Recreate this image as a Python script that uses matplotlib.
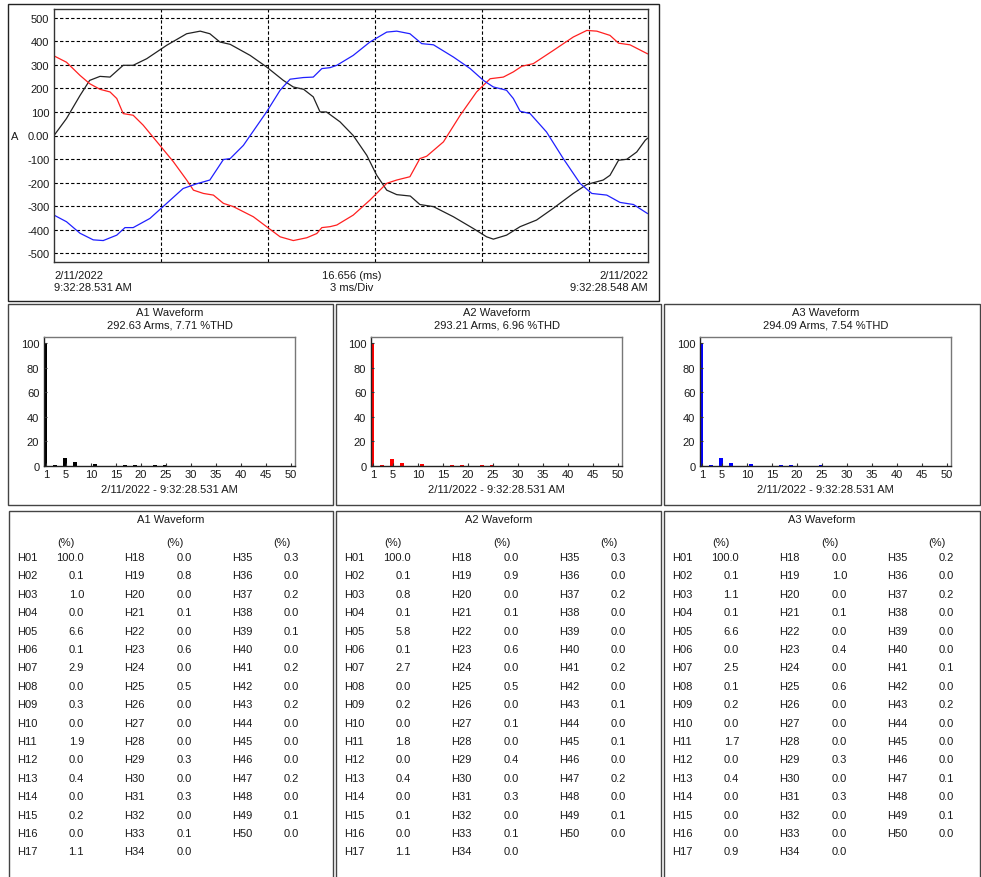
import matplotlib
matplotlib.use("Agg")
import matplotlib.pyplot as plt
from matplotlib.patches import Rectangle

plt.rcParams['font.family'] = ['Liberation Sans', 'DejaVu Sans']
plt.rcParams['font.size'] = 8

# ---------------- data ----------------
# waveform samples (time in ms, current in A)
t_a1 = [0, 0.35, 0.73, 1.0, 1.29, 1.57, 1.94, 2.22, 2.6, 3.16, 3.72, 4.1, 4.37, 4.65, 4.94,
        5.5, 5.96, 6.43, 6.71, 7.0, 7.27, 7.46, 7.64, 8.02, 8.39, 8.77, 9.05, 9.33, 9.61,
        9.99, 10.26, 10.64, 11.2, 11.76, 12.13, 12.32, 12.69, 13.07, 13.53, 14.0, 14.56,
        14.94, 15.4, 15.59, 15.83, 16.06, 16.34, 16.58, 16.64]
v_a1 = [0, 72, 170, 234, 251, 248, 298, 298, 326, 383, 432, 443, 432, 397, 387,
        340, 291, 234, 206, 196, 164, 100, 100, 58, 0, -84, -169, -232, -251,
        -257, -293, -302, -345, -395, -430, -440, -423, -387, -359, -309, -246,
        -208, -189, -169, -105, -101, -70, -20, -12]

t_a2 = [0, 0.35, 0.73, 1.0, 1.29, 1.57, 1.76, 1.94, 2.22, 2.5, 2.97, 3.35, 3.72, 3.91,
        4.19, 4.47, 4.75, 5.03, 5.59, 5.96, 6.34, 6.71, 7.09, 7.37, 7.51, 7.74, 7.93,
        8.39, 8.86, 9.33, 9.61, 9.98, 10.26, 10.45, 10.92, 11.39, 11.85, 12.23, 12.6,
        12.88, 13.12, 13.44, 14.0, 14.56, 14.94, 15.22, 15.59, 15.83, 16.15, 16.64]
v_a2 = [338, 311, 255, 220, 196, 185, 157, 93, 86, 44, -42, -112, -189, -232,
        -246, -253, -288, -302, -345, -387, -430, -446, -434, -416, -391, -387, -380,
        -338, -274, -203, -189, -175, -98, -88, -27, 86, 185, 241, 248,
        270, 294, 305, 361, 418, 446, 443, 425, 392, 385, 347]

t_a3 = [0, 0.35, 0.73, 1.1, 1.38, 1.76, 1.99, 2.22, 2.69, 3.16, 3.62, 4.0, 4.37, 4.75,
        4.94, 5.31, 5.96, 6.34, 6.62, 6.99, 7.27, 7.51, 7.74, 7.93, 8.39, 8.86, 9.33,
        9.61, 9.98, 10.31, 10.64, 11.2, 11.67, 12.04, 12.32, 12.69, 12.88, 13.07, 13.35,
        13.81, 14.28, 14.75, 15.08, 15.5, 15.87, 16.25, 16.64]
v_a3 = [-338, -366, -415, -443, -446, -423, -391, -391, -352, -288, -225, -205, -189, -102,
        -98, -42, 100, 192, 239, 246, 248, 284, 288, 298, 340, 397, 439,
        443, 432, 390, 385, 333, 284, 234, 206, 192, 157, 103, 93,
        15, -98, -203, -246, -253, -284, -293, -331]

y_ticks = [500, 400, 300, 200, 100, 0, -100, -200, -300, -400, -500]
y_tick_labels = ["500", "400", "300", "200", "100", "0.00", "-100", "-200", "-300", "-400", "-500"]
x_grid_ms = [3, 6, 9, 12, 15]
span_ms = 16.656

# harmonic percentages H01..H50
harm_a1 = [100.0, 0.1, 1.0, 0.0, 6.6, 0.1, 2.9, 0.0, 0.3, 0.0, 1.9, 0.0, 0.4, 0.0, 0.2, 0.0, 1.1,
           0.0, 0.8, 0.0, 0.1, 0.0, 0.6, 0.0, 0.5, 0.0, 0.0, 0.0, 0.3, 0.0, 0.3, 0.0, 0.1, 0.0,
           0.3, 0.0, 0.2, 0.0, 0.1, 0.0, 0.2, 0.0, 0.2, 0.0, 0.0, 0.0, 0.2, 0.0, 0.1, 0.0]
harm_a2 = [100.0, 0.1, 0.8, 0.1, 5.8, 0.1, 2.7, 0.0, 0.2, 0.0, 1.8, 0.0, 0.4, 0.0, 0.1, 0.0, 1.1,
           0.0, 0.9, 0.0, 0.1, 0.0, 0.6, 0.0, 0.5, 0.0, 0.1, 0.0, 0.4, 0.0, 0.3, 0.0, 0.1, 0.0,
           0.3, 0.0, 0.2, 0.0, 0.0, 0.0, 0.2, 0.0, 0.1, 0.0, 0.1, 0.0, 0.2, 0.0, 0.1, 0.0]
harm_a3 = [100.0, 0.1, 1.1, 0.1, 6.6, 0.0, 2.5, 0.1, 0.2, 0.0, 1.7, 0.0, 0.4, 0.0, 0.0, 0.0, 0.9,
           0.0, 1.0, 0.0, 0.1, 0.0, 0.4, 0.0, 0.6, 0.0, 0.0, 0.0, 0.3, 0.0, 0.3, 0.0, 0.0, 0.0,
           0.2, 0.0, 0.2, 0.0, 0.0, 0.0, 0.1, 0.0, 0.2, 0.0, 0.0, 0.0, 0.1, 0.0, 0.1, 0.0]
harm_orders = list(range(1, 51))

phase_names = ["A1 Waveform", "A2 Waveform", "A3 Waveform"]
phase_summary = ["292.63 Arms, 7.71 %THD", "293.21 Arms, 6.96 %THD", "294.09 Arms, 7.54 %THD"]
phase_colors = ["black", "#ff0000", "#0000ff"]
stamp = "2/11/2022 - 9:32:28.531 AM"

# ---------------- layout helpers ----------------
W, H = 981, 878
fig = plt.figure(figsize=(W / 100, H / 100), dpi=100)
fig.patch.set_facecolor("white")


def rect(l, t, r, b):
    return [l / W, 1 - b / H, (r - l) / W, (b - t) / H]


def fx(x):
    return x / W


def fy(y):
    return 1 - y / H


def box(l, t, r, b, color="#444444", lw=1.0):
    fig.add_artist(Rectangle((fx(l), fy(b)), (r - l) / W, (b - t) / H,
                             transform=fig.transFigure, fill=False,
                             edgecolor=color, linewidth=lw))


TXT = "#1a1a1a"

# ---------------- waveform panel ----------------
box(7.5, 4.5, 658.5, 302, color="#222222", lw=1.0)
ax = fig.add_axes(rect(54, 10, 648, 263))
ax.plot(t_a1, v_a1, color="#222222", lw=0.9)
ax.plot(t_a2, v_a2, color="#ff2020", lw=0.9)
ax.plot(t_a3, v_a3, color="#2020ff", lw=0.9)
ax.set_xlim(0, span_ms)
ax.set_ylim(-537, 537)
ax.set_yticks(y_ticks)
ax.set_yticklabels(y_tick_labels)
ax.set_xticks(x_grid_ms)
ax.set_xticklabels([])
ax.tick_params(length=0, pad=3.4, labelsize=8, labelcolor=TXT)
ax.grid(True, color="black", linestyle=(0, (3, 2)), linewidth=0.8)
for s in ax.spines.values():
    s.set_color("#333333")
    s.set_linewidth(1.0)
fig.text(fx(14.5), fy(137), "A", ha="center", va="center", color=TXT)
fig.text(fx(54), fy(276), "2/11/2022", ha="left", va="center", color=TXT)
fig.text(fx(54), fy(288), "9:32:28.531 AM", ha="left", va="center", color=TXT)
fig.text(fx(352), fy(276), "16.656 (ms)", ha="center", va="center", color=TXT)
fig.text(fx(352), fy(288), "3 ms/Div", ha="center", va="center", color=TXT)
fig.text(fx(648), fy(276), "2/11/2022", ha="right", va="center", color=TXT)
fig.text(fx(648), fy(288), "9:32:28.548 AM", ha="right", va="center", color=TXT)

# ---------------- harmonic bar panels ----------------
mid_boxes = [(8, 305, 333, 506), (336, 305, 661, 506), (664, 305, 980, 506)]
bar_axes = [(44, 338, 295, 467), (371, 338, 622, 467), (700, 338, 951, 467)]
harm_sets = [harm_a1, harm_a2, harm_a3]

for i in range(3):
    box(*mid_boxes[i])
    l, t, r, b = bar_axes[i]
    bx = fig.add_axes(rect(l, t, r, b))
    bx.bar([n - 0.22 for n in harm_orders], harm_sets[i], width=0.8,
           color=phase_colors[i], linewidth=0)
    bx.set_xlim(0.6, 50.8)
    bx.set_ylim(0, 105)
    bx.set_xticks([1, 5, 10, 15, 20, 25, 30, 35, 40, 45, 50])
    bx.set_yticks([0, 20, 40, 60, 80, 100])
    bx.tick_params(direction="in", length=2.5, width=0.8, labelsize=8,
                   labelcolor=TXT, color="#333333")
    bx.tick_params(axis="y", pad=3.4)
    bx.tick_params(axis="x", pad=2.0)
    for side in ("left", "bottom"):
        bx.spines[side].set_color("#222222")
    for side in ("top", "right"):
        bx.spines[side].set_color("#777777")
    for s in bx.spines.values():
        s.set_linewidth(1.0)
    cx = (l + r) / 2
    fig.text(fx(cx), fy(313), phase_names[i], ha="center", va="center", color=TXT)
    fig.text(fx(cx), fy(326), phase_summary[i], ha="center", va="center", color=TXT)
    fig.text(fx(cx), fy(490), stamp, ha="center", va="center", color=TXT)

# ---------------- harmonic tables ----------------
tab_boxes = [(9, 512, 333, 882), (336, 512, 661, 882), (664, 512, 980, 882)]
name_dx = [8, 115, 223]
val_dx = [75, 183, 290]
pct_dx = [57, 165.5, 273]
row_y0, row_dy = 558, 18.4
col_starts = [0, 17, 34]
col_lens = [17, 17, 16]

for i in range(3):
    L, T, R, B = tab_boxes[i]
    box(L, T, R, B)
    fig.text(fx((L + R) / 2), fy(520), phase_names[i], ha="center", va="center", color=TXT)
    vals = harm_sets[i]
    for c in range(3):
        fig.text(fx(L + pct_dx[c]), fy(543), "(%)", ha="center", va="center", color=TXT)
        for k in range(col_lens[c]):
            idx = col_starts[c] + k
            y = row_y0 + k * row_dy
            fig.text(fx(L + name_dx[c]), fy(y), "H%02d" % harm_orders[idx],
                     ha="left", va="center", color=TXT)
            fig.text(fx(L + val_dx[c]), fy(y), "%.1f" % vals[idx],
                     ha="right", va="center", color=TXT)

fig.savefig("out.png", dpi=100, facecolor="white")
